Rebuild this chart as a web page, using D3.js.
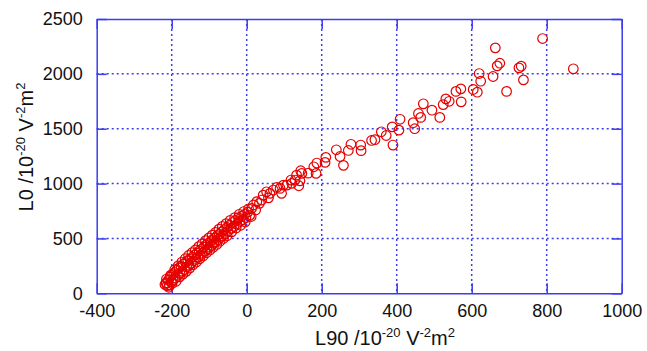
<!DOCTYPE html>
<html><head><meta charset="utf-8">
<script src="https://cdn.jsdelivr.net/npm/d3@7"></script>
<style>body{margin:0;background:#fff} text{font-family:"Liberation Sans",Arial,sans-serif}</style>
</head><body><svg id="c" width="647" height="351"></svg>
<script>
const L90 = [-218,-215,-212,-209,-206,-204,-201,-198,-196,-193,-190,-187,-184,-181,-178,-175,-172,-169,-166,-163,-160,-157,-154,-151,-148,-145,-142,-139,-136,-133,-130,-127,-124,-121,-118,-115,-112,-109,-106,-103,-100,-97,-94,-91,-88,-85,-82,-79,-76,-73,-70,-67,-64,-60,-57,-53,-50,-46,-42,-38,-34,-30,-26,-22,-18,-14,-10,-6,-2,3,8,
  -214,-208,-203,-199,-192,-188,-183,-179,-173,-170,-164,-161,-155,-152,-146,-143,-137,-134,-128,-125,-119,-116,-110,-107,-101,-98,-92,-89,-83,-80,-74,-71,-65,-62,-55,-52,-44,-40,-32,-28,-20,-16,-8,-4,5,12,
  13,18,24,27,34,40,44,53,58,62,71,80,89,93,98,107,118,120,129,133,139,142,144,147,164,179,185,187,209,211,239,249,258,271,278,304,305,333,342,359,372,388,390,406,409,444,448,458,464,471,494,515,524,531,540,558,571,572,604,615,620,624,657,663,668,675,693,726,732,738,789,871];
const L0 = [80,95,70,120,75,150,105,170,120,190,140,210,165,230,180,245,200,265,215,280,240,300,255,310,275,330,295,350,310,365,330,385,345,400,365,420,385,440,400,455,420,470,435,490,455,505,470,525,490,540,510,560,525,580,545,600,565,620,590,645,610,665,630,690,655,700,670,720,690,740,710,
  130,55,165,90,215,110,250,150,285,175,315,200,345,230,370,260,395,285,425,315,450,340,480,370,505,395,530,420,555,445,585,475,610,500,635,525,665,560,690,595,720,620,745,650,770,700,
  774,805,760,835,820,850,895,925,870,911,941,965,956,911,986,986,1032,1002,1032,1077,980,1025,1117,1093,1095,1153,1093,1187,1193,1239,1308,1247,1166,1302,1358,1351,1300,1393,1400,1472,1438,1517,1351,1487,1586,1555,1500,1639,1603,1727,1669,1603,1720,1772,1750,1840,1863,1745,1858,1833,2003,1933,1976,2237,2073,2097,1840,2055,2070,1945,2322,2046];
const xTicks = [-400,-200,0,200,400,600,800,1000];
const yTicks = [0,500,1000,1500,2000,2500];

const svg = d3.select("#c");
const pL = 96.7, pR = 621.7, pT = 19, pB = 293.3;
const x = d3.scaleLinear().domain([-400,1000]).range([pL,pR]);
const y = d3.scaleLinear().domain([0,2500]).range([pB,pT]);
const blue = "#3c3cf0", red = "#e60000", ink = "#111";

// grid
const g = svg.append("g");
g.selectAll(".vx").data(xTicks.slice(1,-1)).join("line")
  .attr("x1",d=>x(d)).attr("x2",d=>x(d)).attr("y1",pT).attr("y2",pB)
  .attr("stroke",blue).attr("stroke-width",1.5).attr("stroke-dasharray","2,3");
g.selectAll(".hy").data(yTicks.slice(1,-1)).join("line")
  .attr("x1",pL).attr("x2",pR).attr("y1",d=>y(d)).attr("y2",d=>y(d))
  .attr("stroke",blue).attr("stroke-width",1.5).attr("stroke-dasharray","2,3");

function style(sel){
  sel.select(".domain").attr("stroke",blue).attr("stroke-width",1.5);
  sel.selectAll(".tick line").attr("stroke",blue).attr("stroke-width",1.5);
  sel.selectAll("text").attr("fill",ink).style("font-size","18px").attr("font-family","'Liberation Sans',Arial,sans-serif");
}
const fmt = d => String(d);
svg.append("g").attr("transform",`translate(0,${pB})`)
  .call(d3.axisBottom(x).tickValues(xTicks).tickFormat(fmt).tickSize(-10).tickSizeOuter(0).tickPadding(11)).call(style);
svg.append("g").attr("transform",`translate(0,${pT})`)
  .call(d3.axisTop(x).tickValues(xTicks).tickFormat("").tickSize(-10).tickSizeOuter(0)).call(style);
svg.append("g").attr("transform",`translate(${pL},0)`)
  .call(d3.axisLeft(y).tickValues(yTicks).tickFormat(fmt).tickSize(-10).tickSizeOuter(0).tickPadding(14)).call(style);
svg.append("g").attr("transform",`translate(${pR},0)`)
  .call(d3.axisRight(y).tickValues(yTicks).tickFormat("").tickSize(-10).tickSizeOuter(0)).call(style);

// points
const pts = L90.map((v,i)=>[v,L0[i]]);
svg.append("g").selectAll("circle").data(pts).join("circle")
  .attr("cx",d=>x(d[0])).attr("cy",d=>y(d[1])).attr("r",4.8)
  .attr("fill","none").attr("stroke",red).attr("stroke-width",1.2);

// titles
function addTitle(t, base){
  t.append("tspan").text(base).style("font-size","20px");
  t.append("tspan").text("-20").style("font-size","13px").attr("dy",-8);
  t.append("tspan").text(" V").style("font-size","20px").attr("dy",8);
  t.append("tspan").text("-2").style("font-size","13px").attr("dy",-8);
  t.append("tspan").text("m").style("font-size","20px").attr("dy",8);
  t.append("tspan").text("2").style("font-size","13px").attr("dy",-8);
}
addTitle(svg.append("text").attr("x",385).attr("y",345).attr("text-anchor","middle").attr("fill",ink), "L90 /10");
addTitle(svg.append("text").attr("transform","translate(33,147) rotate(-90)").attr("text-anchor","middle").attr("fill",ink), "L0 /10");
</script></body></html>
